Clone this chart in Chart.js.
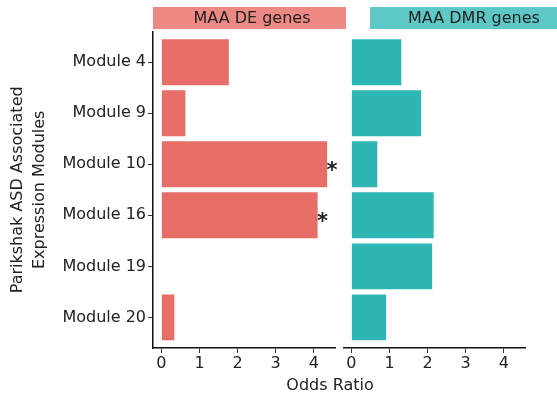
<!DOCTYPE html>
<html>
<head>
<meta charset="utf-8">
<script src="https://cdn.jsdelivr.net/npm/chart.js@4.4.1/dist/chart.umd.min.js"></script>
<style>
  html, body { margin: 0; padding: 0; background: #fff; }
  #wrap { position: relative; width: 557px; height: 398px; }
  #c-de { position: absolute; left: 0; top: 0; }
  #c-dmr { position: absolute; left: 343px; top: 0; }
</style>
</head>
<body>
<div id="wrap">
  <canvas id="c-de" width="557" height="398"></canvas>
  <canvas id="c-dmr" width="214" height="398"></canvas>
</div>
<script>
// data
const modules = ['Module 4', 'Module 9', 'Module 10', 'Module 16', 'Module 19', 'Module 20'];
const deOdds  = [1.77, 0.63, 4.35, 4.10, 0, 0.34];
const dmrOdds = [1.31, 1.83, 0.68, 2.16, 2.12, 0.91];
const deSig   = [false, false, true, true, false, false];
const dmrSig  = [false, false, false, false, false, false];
const xTicks  = [0, 1, 2, 3, 4];
const xMin = -0.22, xMax = 4.57;

const FONT = 'DejaVu Sans';
const INK = '#222';

// modules sit on positions 1..6 of a numeric axis (ggplot-style 0.6 expansion)
const toPoints = vals => vals.map((v, i) => ({ x: v, y: i + 1 }));

// strip label + asterisks, drawn after the datasets
function facetPlugin(strip, sig) {
  return {
    id: 'facet',
    afterDatasetsDraw(chart) {
      const ctx = chart.ctx;
      ctx.save();
      ctx.fillStyle = strip.color;
      ctx.fillRect(strip.x0, 7, strip.x1 - strip.x0, 22);
      ctx.fillStyle = INK;
      ctx.font = `16px "${FONT}"`;
      ctx.textAlign = 'center';
      ctx.textBaseline = 'middle';
      ctx.fillText(strip.text, strip.tx, 19);

      const meta = chart.getDatasetMeta(0);
      const xs = chart.scales.x;
      ctx.font = `bold 21px "${FONT}"`;
      ctx.textAlign = 'left';
      meta.data.forEach((bar, i) => {
        if (!sig[i]) return;
        const v = chart.data.datasets[0].data[i].x;
        ctx.fillText('*', xs.getPixelForValue(v) - 0.5, bar.y + 7);
      });

      if (strip.xtitle) {
        ctx.font = `16px "${FONT}"`;
        ctx.textAlign = 'center';
        ctx.fillText('Odds Ratio', 330, 386);
      }
      ctx.restore();
    }
  };
}

function xScale() {
  return {
    type: 'linear', min: xMin, max: xMax,
    afterBuildTicks: s => { s.ticks = xTicks.map(v => ({ value: v })); },
    afterFit: s => { s.height = 50; },
    grid: { drawOnChartArea: false, drawTicks: true, tickLength: 5, color: '#333', lineWidth: 1 },
    border: { display: true, color: '#111', width: 1.5 },
    ticks: { color: INK, font: { family: FONT, size: 16 }, padding: 1, maxRotation: 0 }
  };
}

function yScale(extra) {
  return Object.assign({
    type: 'linear', min: 0.4, max: modules.length + 0.6, reverse: true, offset: false,
    afterBuildTicks: s => { s.ticks = modules.map((m, i) => ({ value: i + 1 })); },
    ticks: { color: INK, font: { family: FONT, size: 16 }, padding: 2,
             callback: v => modules[v - 1] }
  }, extra);
}

function makeChart(id, values, color, opts) {
  return new Chart(document.getElementById(id), {
    type: 'bar',
    data: {
      datasets: [{ data: toPoints(values), backgroundColor: color, barPercentage: 0.9, categoryPercentage: 1.0 }]
    },
    options: {
      indexAxis: 'y',
      responsive: false,
      animation: false,
      layout: { padding: opts.padding },
      plugins: { legend: { display: false }, tooltip: { enabled: false } },
      scales: { x: xScale(), y: opts.y }
    },
    plugins: [facetPlugin(opts.strip, opts.sig)]
  });
}

makeChart('c-de', deOdds, '#E66E66', {
  padding: { top: 31.6, right: 221.5, left: 0, bottom: 0 },
  sig: deSig,
  strip: { x0: 153, x1: 346, text: 'MAA DE genes', tx: 252, color: '#EE8882', xtitle: true },
  y: yScale({
    afterFit: s => { s.width = 153; },
    grid: { offset: false, drawOnChartArea: false, drawTicks: true, tickLength: 5, color: '#333', lineWidth: 1 },
    border: { display: true, color: '#111', width: 1.5 },
    title: {
      display: true, text: ['Parikshak ASD Associated', 'Expression Modules'],
      color: INK, font: { family: FONT, size: 16, lineHeight: 1.375 }, padding: { top: 7, bottom: 0 }
    }
  })
});

makeChart('c-dmr', dmrOdds, '#2EB6B5', {
  padding: { top: 31.6, right: 31.5, left: 0, bottom: 0 },
  sig: dmrSig,
  strip: { x0: 27, x1: 214, text: 'MAA DMR genes', tx: 131, color: '#5EC8C7', xtitle: false },
  y: yScale({ display: false })
});
</script>
</body>
</html>
